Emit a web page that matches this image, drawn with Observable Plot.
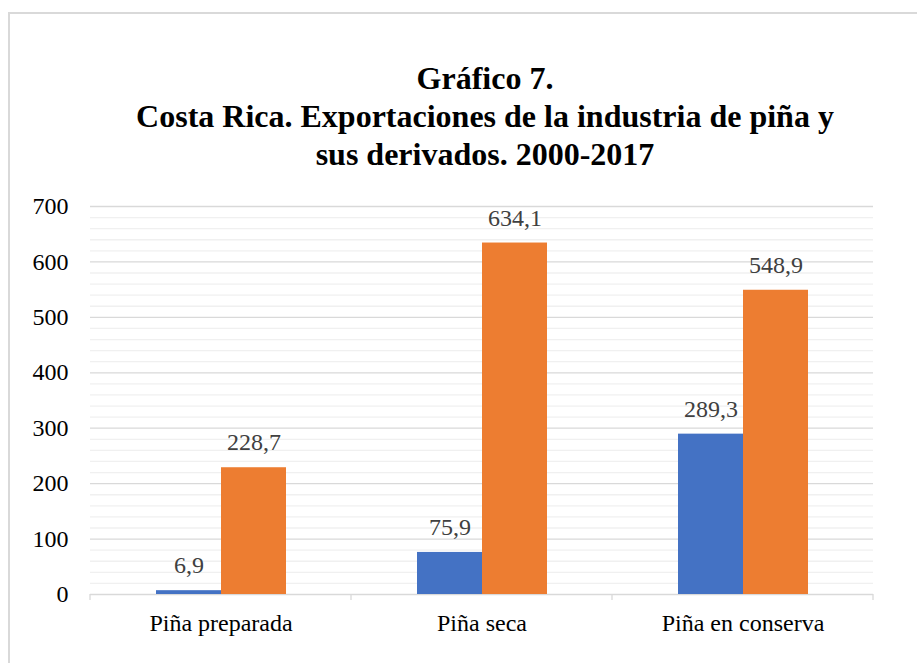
<!DOCTYPE html>
<html>
<head>
<meta charset="utf-8">
<script src="https://cdn.jsdelivr.net/npm/d3@7"></script>
<script src="https://cdn.jsdelivr.net/npm/@observablehq/plot@0.6"></script>
<style>
  html, body { margin: 0; padding: 0; background: #fff; overflow: hidden; }
  #page { position: relative; width: 917px; height: 663px; overflow: hidden; font-family: "Liberation Serif", "Times New Roman", serif; }
  #border { position: absolute; left: 8px; top: 12px; width: 1000px; height: 1000px; border: 2px solid #d9d9d9; box-sizing: border-box; }
  #title { position: absolute; left: 0; top: 59px; width: 970px; text-align: center; font-weight: bold; font-size: 32px; line-height: 38px; color: #000; }
  #chart { position: absolute; left: 0; top: 190px; }
  #chart svg, #chart svg text { font-family: "Liberation Serif", "Times New Roman", serif !important; font-size: 24px !important; }
</style>
</head>
<body>
<div id="page">
  <div id="border"></div>
  <div id="title">Gráfico 7.<br>Costa Rica. Exportaciones de la industria de piña y<br>sus derivados. 2000-2017</div>
  <div id="chart"></div>
</div>
<script>
const categories = ["Piña preparada", "Piña seca", "Piña en conserva"];
const seriesNames = ["2000", "2017"];
const values2000 = [6.9, 75.9, 289.3];
const values2017 = [228.7, 634.1, 548.9];
const colors = ["#4472C4", "#ED7D31"];
const yMajorTicks = [0, 100, 200, 300, 400, 500, 600, 700];
const yMinorTicks = [20, 40, 60, 80, 120, 140, 160, 180, 220, 240, 260, 280, 320, 340, 360, 380, 420, 440, 460, 480, 520, 540, 560, 580, 620, 640, 660, 680];

const data = [];
categories.forEach((c, i) => {
  data.push({cat: c, series: seriesNames[0], value: values2000[i]});
  data.push({cat: c, series: seriesNames[1], value: values2017[i]});
});
const fmt = v => v.toFixed(1).replace(".", ",");

const plot = Plot.plot({
  width: 917,
  height: 473,
  marginTop: 16,
  marginBottom: 69,
  marginLeft: 90,
  marginRight: 44,
  style: "font-family: 'Liberation Serif', serif; font-size: 24px; color: #000; background: transparent;",
  fx: {domain: categories, padding: 0, label: null, axis: "bottom", tickSize: 0, tickPadding: 19},
  x: {domain: seriesNames, paddingInner: 0, paddingOuter: 1, axis: null},
  y: {domain: [0, 700], ticks: yMajorTicks, tickSize: 0, tickPadding: 22, label: null, tickFormat: d => String(d)},
  color: {domain: seriesNames, range: colors},
  marks: [
    Plot.ruleY(yMinorTicks, {stroke: "#f0f0f0", strokeWidth: 1.3}),
    Plot.ruleY(yMajorTicks, {stroke: "#d9d9d9", strokeWidth: 1.3}),
    Plot.barY(data, {fx: "cat", x: "series", y: "value", fill: "series", insetLeft: 0, insetRight: 0}),
    Plot.text(data, {fx: "cat", x: "series", y: "value", text: d => fmt(d.value), dy: -25, fill: "#404040", fontSize: 24})
  ]
});
document.getElementById("chart").appendChild(plot);

// category boundary tick marks on the bottom axis, positioned from the library's scales
const fxs = plot.scale("fx");
const ys = plot.scale("y");
const y0 = ys.range[0];
const svg = d3.select(plot.tagName.toLowerCase() === "svg" ? plot : plot.querySelector("svg"));
const g = svg.append("g").attr("stroke", "#d9d9d9").attr("stroke-width", 1.3);
for (let i = 0; i <= categories.length; i++) {
  const xp = fxs.range[0] + i * fxs.step;
  g.append("line").attr("x1", xp).attr("x2", xp).attr("y1", y0).attr("y2", y0 + 6);
}
</script>
</body>
</html>
